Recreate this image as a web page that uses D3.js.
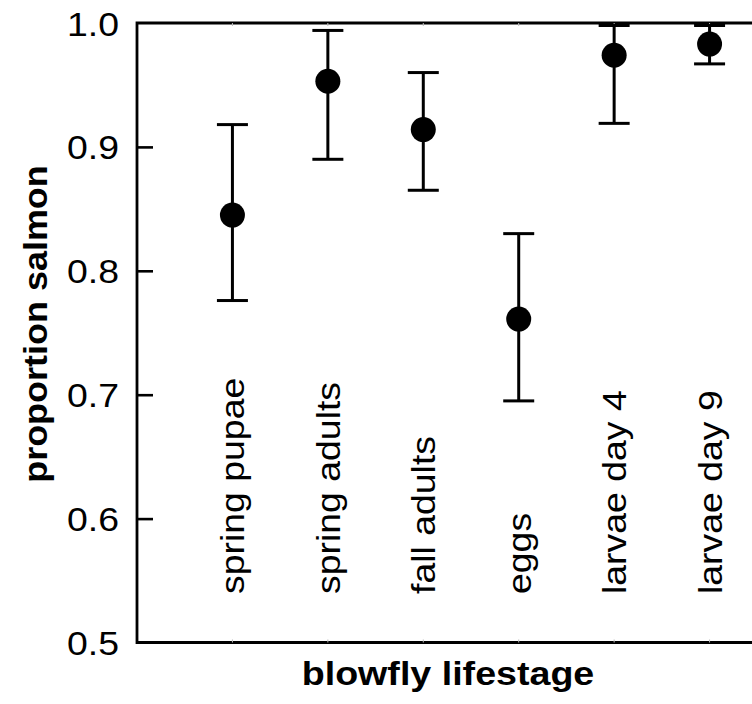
<!DOCTYPE html>
<html>
<head>
<meta charset="utf-8">
<script src="https://cdn.jsdelivr.net/npm/d3@7"></script>
<style>
  html, body { margin: 0; padding: 0; background: #fff; }
  svg { display: block; font-family: "Liberation Sans", Arial, sans-serif; }
</style>
</head>
<body>
<div id="chart"></div>
<script>
// Datos
const categories = ["spring pupae", "spring adults", "fall adults", "eggs", "larvae day 4", "larvae day 9"];
const means = [0.845, 0.953, 0.914, 0.761, 0.974, 0.983];
const lower = [0.776, 0.890, 0.865, 0.695, 0.919, 0.967];
const upper = [0.918, 0.994, 0.960, 0.830, 0.998, 0.998];
const yTicks = [0.5, 0.6, 0.7, 0.8, 0.9, 1.0];

const width = 752, height = 704;
const margin = { t: 23, l: 137, b: 61.5 };
// el marco sigue más allá del borde derecho de la imagen
const plotRight = 805;

const svg = d3.select('#chart')
    .append('svg')
    .attr('width', width)
    .attr('height', height);

const x = d3.scalePoint().domain(categories).range([margin.l, plotRight]).padding(1);
const y = d3.scaleLinear().domain([0.5, 1.0]).range([height - margin.b, margin.t]);

// Marco: izquierda, arriba, abajo
svg.append('path')
    .attr('d', `M${plotRight},${y(1)}H${margin.l}V${y(0.5)}H${plotRight}`)
    .attr('fill', 'none')
    .attr('stroke', '#000')
    .attr('stroke-width', 2.8);

// Marcas tenues en los ejes horizontales
[y(1), y(0.5)].forEach((yy, k) => {
    svg.append('g').selectAll('line')
        .data(categories)
        .join('line')
        .attr('x1', d => x(d)).attr('x2', d => x(d))
        .attr('y1', yy).attr('y2', k === 0 ? yy + 3 : yy - 3)
        .attr('stroke', '#bbb')
        .attr('stroke-width', 1);
});

// Eje Y con marcas hacia dentro
const yAxis = svg.append('g')
    .attr('transform', `translate(${margin.l},0)`)
    .call(d3.axisLeft(y).tickValues(yTicks).tickFormat(d3.format('.1f'))
        .tickSize(-16).tickSizeOuter(0).tickPadding(18));
yAxis.select('.domain').remove();
yAxis.selectAll('.tick line').attr('stroke', '#000').attr('stroke-width', 2.6);
yAxis.selectAll('.tick text')
    .attr('x', null)
    .attr('dy', null)
    .attr('transform', 'translate(-18,12) scale(1.1,1)')
    .attr('fill', '#000')
    .style('font-family', '"Liberation Sans", Arial, sans-serif')
    .style('font-size', '34px');
yAxis.selectAll('.tick').filter(d => d === 0.5 || d === 1.0).select('line').remove();

// Barras de error
const capW = 31;
const bars = svg.append('g');
bars.selectAll('line.v')
    .data(categories)
    .join('line')
    .attr('class', 'v')
    .attr('x1', d => x(d)).attr('x2', d => x(d))
    .attr('y1', (d, i) => y(lower[i])).attr('y2', (d, i) => y(upper[i]))
    .attr('stroke', '#000').attr('stroke-width', 3);
[lower, upper].forEach(vals => {
    bars.append('g').selectAll('line')
        .data(categories)
        .join('line')
        .attr('x1', d => x(d) - capW / 2).attr('x2', d => x(d) + capW / 2)
        .attr('y1', (d, i) => y(vals[i])).attr('y2', (d, i) => y(vals[i]))
        .attr('stroke', '#000').attr('stroke-width', 3);
});

// Puntos
svg.append('g').selectAll('circle')
    .data(categories)
    .join('circle')
    .attr('cx', d => x(d))
    .attr('cy', (d, i) => y(means[i]))
    .attr('r', 12.5)
    .attr('fill', '#000');

// Etiquetas de categoría giradas dentro del gráfico
svg.append('g').selectAll('text')
    .data(categories)
    .join('text')
    .attr('transform', d => `translate(${x(d) + 12},594) rotate(-90) scale(1.1,1)`)
    .attr('text-anchor', 'start')
    .style('font-size', '34px')
    .attr('fill', '#000')
    .text(d => d);

// Títulos de ejes
svg.append('text')
    .attr('transform', 'translate(448,685) scale(1.14,1)')
    .attr('text-anchor', 'middle')
    .style('font-size', '33px')
    .style('font-weight', 'bold')
    .text('blowfly lifestage');

svg.append('text')
    .attr('transform', 'translate(47,324) rotate(-90) scale(1.09,1)')
    .attr('text-anchor', 'middle')
    .style('font-size', '33px')
    .style('font-weight', 'bold')
    .text('proportion salmon');
</script>
</body>
</html>
